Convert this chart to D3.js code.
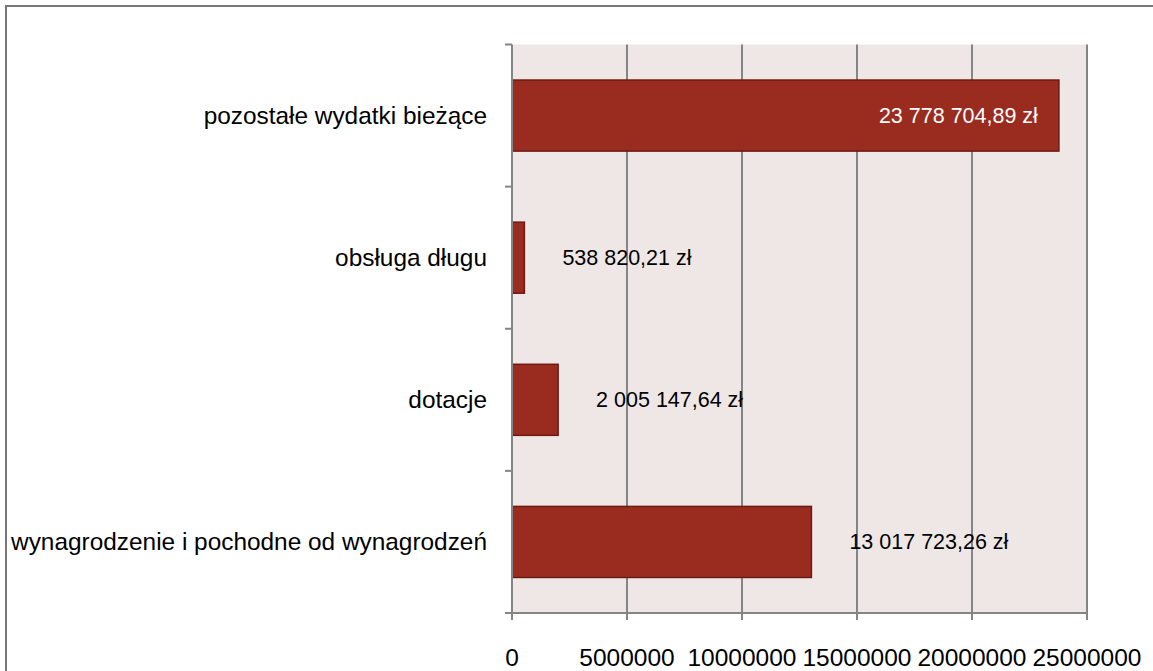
<!DOCTYPE html>
<html>
<head>
<meta charset="utf-8">
<script src="https://cdn.jsdelivr.net/npm/d3@7"></script>
<style>
  body { margin: 0; background: #fff; }
  text { font-family: "Liberation Sans", Arial, sans-serif; }
</style>
</head>
<body>
<div id="chart"></div>
<script>
var w = 1153,
    h = 671;

// data, top to bottom as in the picture
var categories = ["pozostałe wydatki bieżące", "obsługa długu", "dotacje", "wynagrodzenie i pochodne od wynagrodzeń"];
var values = [23778704.89, 538820.21, 2005147.64, 13017723.26];
var valueLabels = ["23 778 704,89 zł", "538 820,21 zł", "2 005 147,64 zł", "13 017 723,26 zł"];
var xTicks = [0, 5000000, 10000000, 15000000, 20000000, 25000000];

var plotL = 512, plotR = 1087, plotT = 44.5, plotB = 613;

var svg = d3.select("#chart")
    .append("svg")
    .attr("width", w)
    .attr("height", h);

// outer frame (left + top visible only)
svg.append("path")
   .attr("d", "M6,671 L6,6 L1153,6")
   .attr("fill", "none")
   .attr("stroke", "#777")
   .attr("stroke-width", 2);

var x = d3.scaleLinear().domain([0, 25000000]).range([plotL, plotR]);
var y = d3.scaleBand().domain(categories).range([plotT, plotB]).paddingInner(0.5).paddingOuter(0.25);

// plot background
svg.append("rect")
   .attr("x", plotL).attr("y", plotT)
   .attr("width", plotR - plotL).attr("height", plotB - plotT)
   .attr("fill", "#EFE7E6");

// vertical grid lines
svg.append("g")
   .selectAll("line")
   .data(xTicks.slice(1))
   .enter()
   .append("line")
   .attr("x1", function(d) { return x(d); })
   .attr("x2", function(d) { return x(d); })
   .attr("y1", plotT).attr("y2", plotB)
   .attr("stroke", "#858585")
   .attr("stroke-width", 2);

// bars
svg.append("g")
   .selectAll("rect")
   .data(values)
   .enter()
   .append("rect")
   .attr("x", x(0))
   .attr("y", function(d, i) { return y(categories[i]); })
   .attr("width", function(d) { return x(d) - x(0); })
   .attr("height", y.bandwidth())
   .attr("fill", "#9A2B1F")
   .attr("stroke", "#6E1A12")
   .attr("stroke-width", 1.5);

// value labels
svg.append("g")
   .selectAll("text")
   .data(values)
   .enter()
   .append("text")
   .attr("x", function(d, i) { return i === 0 ? x(d) - 21 : x(d) + 38; })
   .attr("y", function(d, i) { return y(categories[i]) + y.bandwidth() / 2; })
   .attr("dy", "0.35em")
   .attr("text-anchor", function(d, i) { return i === 0 ? "end" : "start"; })
   .attr("fill", function(d, i) { return i === 0 ? "#fff" : "#000"; })
   .style("font-size", "21.5px")
   .text(function(d, i) { return valueLabels[i]; });

// y axis
var yBounds = d3.range(categories.length + 1).map(function(i) { return plotT + i * (plotB - plotT) / categories.length; });
svg.append("line")
   .attr("x1", plotL).attr("x2", plotL)
   .attr("y1", plotT).attr("y2", plotB + 7)
   .attr("stroke", "#858585").attr("stroke-width", 2);
svg.append("g")
   .selectAll("line")
   .data(yBounds)
   .enter()
   .append("line")
   .attr("x1", plotL - 7).attr("x2", plotL)
   .attr("y1", function(d) { return d; }).attr("y2", function(d) { return d; })
   .attr("stroke", "#858585").attr("stroke-width", 2);

svg.append("g")
   .selectAll("text")
   .data(categories)
   .enter()
   .append("text")
   .attr("x", 487)
   .attr("y", function(d) { return y(d) + y.bandwidth() / 2; })
   .attr("dy", "0.35em")
   .attr("text-anchor", "end")
   .style("font-size", "24.4px")
   .text(function(d) { return d; });

// x axis
svg.append("line")
   .attr("x1", plotL - 7).attr("x2", plotR)
   .attr("y1", plotB).attr("y2", plotB)
   .attr("stroke", "#858585").attr("stroke-width", 2);
svg.append("g")
   .selectAll("line")
   .data(xTicks)
   .enter()
   .append("line")
   .attr("x1", function(d) { return x(d); })
   .attr("x2", function(d) { return x(d); })
   .attr("y1", plotB).attr("y2", plotB + 7)
   .attr("stroke", "#858585").attr("stroke-width", 2);
svg.append("g")
   .selectAll("text")
   .data(xTicks)
   .enter()
   .append("text")
   .attr("x", function(d) { return x(d); })
   .attr("y", 666)
   .attr("text-anchor", "middle")
   .style("font-size", "24.5px")
   .text(function(d) { return d; });
</script>
</body>
</html>
